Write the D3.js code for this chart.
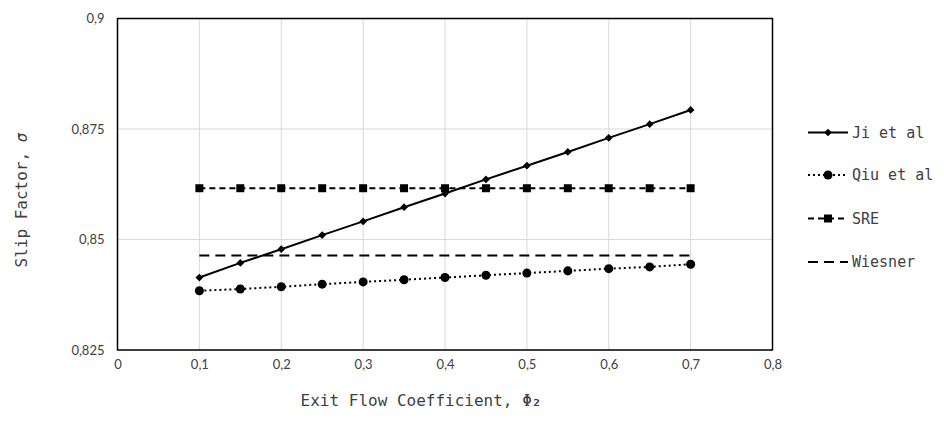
<!DOCTYPE html>
<html><head><meta charset="utf-8">
<script src="https://cdn.jsdelivr.net/npm/d3@7"></script>
<style>body{margin:0;background:#fff}</style>
</head><body>
<svg id="c" width="944" height="433"></svg>
<script>
const xValues = [0.1,0.15,0.2,0.25,0.3,0.35,0.4,0.45,0.5,0.55,0.6,0.65,0.7];
const jiEtAl = [0.8414,0.8447,0.8478,0.8510,0.8541,0.8573,0.8604,0.8636,0.8667,0.8698,0.8730,0.8761,0.8793];
const qiuEtAl = [0.8384,0.8388,0.8393,0.8399,0.8404,0.8409,0.8414,0.8419,0.8424,0.8429,0.8434,0.8438,0.8444];
const sre = [0.8616,0.8616,0.8616,0.8616,0.8616,0.8616,0.8616,0.8616,0.8616,0.8616,0.8616,0.8616,0.8616];
const wiesnerX = [0.1,0.7];
const wiesner = [0.8464,0.8464];
const xTicks = [0,0.1,0.2,0.3,0.4,0.5,0.6,0.7,0.8];
const yTicks = [0.825,0.85,0.875,0.9];
const seriesNames = ["Ji et al","Qiu et al","SRE","Wiesner"];

const svg = d3.select("#c");
const L=117.5, R=772.5, T=18.5, B=350;
const x = d3.scaleLinear().domain([0,0.8]).range([L,R]);
const y = d3.scaleLinear().domain([0.825,0.9]).range([B,T]);
const fmt = v => String(v).replace(".",",");
const tickFont = "Lato, 'Open Sans', sans-serif";
const monoFont = "'DejaVu Sans Mono', 'Liberation Mono', monospace";

// gridlines
svg.append("g").selectAll("line.v").data(xTicks.slice(1,-1)).join("line")
  .attr("x1",d=>x(d)).attr("x2",d=>x(d)).attr("y1",T).attr("y2",B)
  .attr("stroke","#d9d9d9").attr("stroke-width",1);
svg.append("g").selectAll("line.h").data(yTicks.slice(1,-1)).join("line")
  .attr("x1",L).attr("x2",R).attr("y1",d=>y(d)).attr("y2",d=>y(d))
  .attr("stroke","#d9d9d9").attr("stroke-width",1);

// axes via d3
const xAxis = d3.axisBottom(x).tickValues(xTicks).tickFormat(fmt).tickSize(0).tickPadding(10);
const gx = svg.append("g").attr("transform",`translate(0,${B})`).call(xAxis);
gx.select(".domain").remove();
gx.selectAll("text").attr("font-family",tickFont).attr("font-size",13).attr("fill","#404040");
const yAxis = d3.axisLeft(y).tickValues(yTicks).tickFormat(fmt).tickSize(0).tickPadding(13);
const gy = svg.append("g").attr("transform",`translate(${L},0)`).call(yAxis);
gy.select(".domain").remove();
gy.selectAll("text").attr("font-family",tickFont).attr("font-size",13).attr("fill","#404040");

// frame
svg.append("rect").attr("x",L).attr("y",T).attr("width",R-L).attr("height",B-T)
  .attr("fill","none").attr("stroke","#000").attr("stroke-width",1.5);

const line = d3.line().x(d=>x(d[0])).y(d=>y(d[1]));
const diamond = {d:d3.symbol().type(d3.symbolSquare).size(30)(), rot:45};
const circle = {d:d3.symbol().type(d3.symbolCircle).size(64)(), rot:0};
const square = {d:d3.symbol().type(d3.symbolSquare).size(64)(), rot:0};

const series = [
  {name:seriesNames[0], xs:xValues, ys:jiEtAl, dash:null, sym:diamond},
  {name:seriesNames[1], xs:xValues, ys:qiuEtAl, dash:"2,3", sym:circle},
  {name:seriesNames[2], xs:xValues, ys:sre, dash:"6,4", sym:square},
  {name:seriesNames[3], xs:wiesnerX, ys:wiesner, dash:"10,6", sym:null}
];

series.forEach(s=>{
  const pts = s.xs.map((v,i)=>[v,s.ys[i]]);
  svg.append("path").datum(pts).attr("d",line).attr("fill","none")
    .attr("stroke","#000").attr("stroke-width",2)
    .attr("stroke-dasharray",s.dash);
  if(s.sym){
    svg.append("g").selectAll("path").data(pts).join("path")
      .attr("d",s.sym.d).attr("transform",d=>`translate(${x(d[0])},${y(d[1])}) rotate(${s.sym.rot})`).attr("fill","#000");
  }
});

// legend
const legY = [132.5,175,218.5,262];
series.forEach((s,i)=>{
  const g = svg.append("g").attr("transform",`translate(808,${legY[i]})`);
  g.append("line").attr("x1",0).attr("x2",40).attr("y1",0).attr("y2",0)
    .attr("stroke","#000").attr("stroke-width",2).attr("stroke-dasharray",s.dash);
  if(s.sym) g.append("path").attr("d",s.sym.d).attr("transform",`translate(20,0) rotate(${s.sym.rot})`).attr("fill","#000");
  g.append("text").attr("x",44).attr("y",0).attr("dy","0.35em")
    .attr("font-family",monoFont).attr("font-size",15).attr("fill","#404040").text(s.name);
});

// axis titles
const xt = svg.append("text").attr("x",421).attr("y",406).attr("text-anchor","middle")
  .attr("font-family",monoFont).attr("font-size",16).attr("fill","#404040");
xt.append("tspan").text("Exit Flow Coefficient, Φ");
xt.append("tspan").attr("font-weight","bold").text("₂");
const yt = svg.append("text").attr("transform","translate(27,200) rotate(-90)").attr("text-anchor","middle")
  .attr("font-family",monoFont).attr("font-size",16).attr("fill","#404040");
yt.append("tspan").text("Slip Factor, ");
yt.append("tspan").attr("font-style","italic").text("σ");
</script>
</body></html>
